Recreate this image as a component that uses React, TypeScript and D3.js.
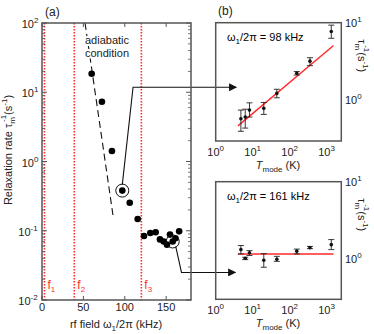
import * as d3 from "d3";

// panel (a): relaxation rate vs rf field
const rfField = [60, 72.4, 84.5, 97, 106, 115.6, 123.2, 130.8, 137.3, 142.5, 147, 151, 154.6, 157.9, 161.2, 165.7];
const relaxRate = [18.5, 7.3, 1.42, 0.38, 0.254, 0.148, 0.084, 0.093, 0.095, 0.075, 0.07, 0.063, 0.088, 0.07, 0.078, 0.098];
const circledIdx = [3, 13];
const fLines = [3, 39, 120];
const fNames = ["1", "2", "3"];
const adiabaticKHz = [52, 86];
const adiabaticRate = [100, 0.16];
const xTicksA = [0, 50, 100, 150];
const yTicksA = [-2, -1, 0, 1, 2];

// panel (b): rate vs mode temperature
const tMode = [4.8, 6.3, 8.2, 20, 45, 156, 355, 1340];
const rate98 = [0.58, 0.61, 0.75, 0.79, 1.23, 2.23, 3.2, 7.7];
const lo98 = [0.4, 0.44, 0.61, 0.66, 1.08, 2.12, 2.8, 6.3];
const hi98 = [0.75, 0.77, 0.93, 0.94, 1.39, 2.35, 3.54, 9.3];
const rate161 = [1.32, 1.02, 1.2, 0.96, 0.99, 1.26, 1.4, 1.53];
const lo161 = [1.16, 0.98, 1.11, 0.78, 0.93, 1.16, 1.36, 1.32];
const hi161 = [1.49, 1.05, 1.28, 1.17, 1.08, 1.34, 1.45, 1.78];
const fitT = [4, 1540];
const fit98 = [0.47, 5.1];
const fit161 = [1.16, 1.16];
const xTicksB = [0, 1, 2, 3];

const font = "'Liberation Sans', Arial, sans-serif";
const red = "#ff2a2a";
const frame = "#555";

const xA = d3.scaleLinear().domain([0, 180]).range([42, 191]);
const yA = d3.scaleLog().domain([0.01, 100]).range([300, 23]);
const xB = d3.scaleLog().domain([1, 2500]).range([215.7, 341.3]);
const yTop = d3.scaleLog().domain([0.3, 10]).range([141, 22.7]);
const yBot = d3.scaleLog().domain([0.3, 10]).range([299.3, 181.7]);

function Sup({ base, exp, ...rest }: any) {
  return (
    <text {...rest}>
      {base}
      <tspan dy={-5} fontSize={8}>{exp}</tspan>
    </text>
  );
}

// tau_m^-1 (s^-1) label
function TauLabel({ prefix }: any) {
  return (
    <>
      {prefix}τ<tspan dy={3} fontSize={8}>m</tspan>
      <tspan dy={-9} dx={-5} fontSize={8}>-1</tspan>
      <tspan dy={6}>(s</tspan>
      <tspan dy={-5} fontSize={8}>-1</tspan>
      <tspan dy={5}>)</tspan>
    </>
  );
}

function PanelB({ y, rate, lo, hi, fit, label }: any) {
  const [y0, y1] = y.range();
  const line = d3.line<number>().x((_, i) => xB(fitT[i])).y((d) => y(d));
  return (
    <g>
      <rect x={215.7} y={y1} width={341.3 - 215.7} height={y0 - y1} fill="none" stroke={frame} strokeWidth={1.5} />
      <text x={227} y={y1 + 18} fontSize={11} fontFamily={font}>
        ω<tspan dy={3} fontSize={8}>1</tspan>
        <tspan dy={-3}>/2π = {label} kHz</tspan>
      </text>
      <path d={line(fit) || ""} stroke={red} strokeWidth={1.4} fill="none" />
      {tMode.map((t, i) => (
        <g key={i} stroke="#222" strokeWidth={0.9}>
          <line x1={xB(t)} x2={xB(t)} y1={y(lo[i])} y2={y(hi[i])} />
          <line x1={xB(t) - 3} x2={xB(t) + 3} y1={y(lo[i])} y2={y(lo[i])} />
          <line x1={xB(t) - 3} x2={xB(t) + 3} y1={y(hi[i])} y2={y(hi[i])} />
          <circle cx={xB(t)} cy={y(rate[i])} r={1.8} fill="#111" stroke="none" />
        </g>
      ))}
      {xTicksB.map((e) => (
        <Sup key={e} base="10" exp={e} x={xB(10 ** e)} y={y0 + 15} fontSize={11} fontFamily={font} textAnchor="middle" fill="#222" />
      ))}
      {[0, 1].map((e) => (
        <Sup key={e} base="10" exp={e} x={345} y={y(10 ** e) + 4} fontSize={11} fontFamily={font} fill="#222" />
      ))}
      <text x={278} y={y0 + 28} fontSize={11} fontFamily={font} textAnchor="middle" fill="#222">
        <tspan fontStyle="italic">T</tspan>
        <tspan dy={3} fontSize={8}>mode</tspan>
        <tspan dy={-3}> (K)</tspan>
      </text>
      <text transform={`translate(358,${y1 + 33}) rotate(90)`} fontSize={11} fontFamily={font} textAnchor="middle" fill="#222">
        <TauLabel prefix="" />
      </text>
    </g>
  );
}

export default function App() {
  const minorTicks: number[] = [];
  for (let e = -2; e < 2; e++) for (let m = 2; m <= 9; m++) minorTicks.push(m * 10 ** e);

  const c1 = circledIdx[0];
  const c2 = circledIdx[1];
  const arrow1 = [
    [xA(rfField[c1]), yA(relaxRate[c1]) - 6],
    [xA(110), yA(11.8)],
    [xB(3.6), yA(11.8)],
  ];
  const arrow2 = [
    [xA(rfField[c2]) + 3, yA(relaxRate[c2]) + 5],
    [xA(168.5), yA(0.025)],
    [xB(3.4), yA(0.025)],
  ];
  const poly = d3.line();

  return (
    <svg width={374} height={334} style={{ position: "absolute", left: 0, top: 0, background: "#fff" }}>
      <defs>
        <marker id="arr" viewBox="0 0 10 10" refX={9} refY={5} markerWidth={8} markerHeight={8} orient="auto" markerUnits="userSpaceOnUse">
          <path d="M0,0 L10,5 L0,10 z" fill="#111" />
        </marker>
      </defs>

      {/* panel (a) */}
      <text x={45} y={16} fontSize={12} fontFamily={font} fill="#222">(a)</text>
      <text x={218} y={15} fontSize={12} fontFamily={font} fill="#222">(b)</text>

      {fLines.map((f, i) => (
        <g key={f}>
          <line x1={xA(f)} x2={xA(f)} y1={23} y2={300} stroke={red} strokeWidth={1.6} strokeDasharray="1.6,1.4" />
          <text x={xA(f) + 3} y={289} fontSize={12} fontFamily={font} fill={red}>
            f<tspan dy={3} fontSize={8}>{fNames[i]}</tspan>
          </text>
        </g>
      ))}

      <line x1={xA(adiabaticKHz[0])} y1={yA(adiabaticRate[0])} x2={xA(adiabaticKHz[1])} y2={yA(adiabaticRate[1])}
        stroke="#111" strokeWidth={1.1} strokeDasharray="7,4" />
      <g fontSize={11} fontFamily={font} fill="#222" stroke="#fff" strokeWidth={4} paintOrder="stroke">
        <text x={85} y={44}>adiabatic</text>
        <text x={85} y={57}>condition</text>
      </g>

      <path d={poly(arrow1 as any) || ""} fill="none" stroke="#111" strokeWidth={1.1} markerEnd="url(#arr)" />
      <path d={poly(arrow2 as any) || ""} fill="none" stroke="#111" strokeWidth={1.1} markerEnd="url(#arr)" />

      {rfField.map((f, i) => (
        <circle key={i} cx={xA(f)} cy={yA(relaxRate[i])} r={3.3} fill="#000" />
      ))}
      {circledIdx.map((i) => (
        <circle key={i} cx={xA(rfField[i])} cy={yA(relaxRate[i])} r={6.5} fill="none" stroke="#111" strokeWidth={1} />
      ))}

      <rect x={42} y={23} width={191 - 42} height={277} fill="none" stroke={frame} strokeWidth={1.5} />
      {minorTicks.map((v) => (
        <g key={v} stroke={frame} strokeWidth={0.8}>
          <line x1={42} x2={45} y1={yA(v)} y2={yA(v)} />
          <line x1={191} x2={188} y1={yA(v)} y2={yA(v)} />
        </g>
      ))}
      {yTicksA.map((e) => (
        <g key={e}>
          <line x1={42} x2={47} y1={yA(10 ** e)} y2={yA(10 ** e)} stroke={frame} strokeWidth={1} />
          <line x1={191} x2={186} y1={yA(10 ** e)} y2={yA(10 ** e)} stroke={frame} strokeWidth={1} />
          <Sup base="10" exp={e} x={e < 0 ? 28 : 30} y={yA(10 ** e) + 5} fontSize={11} fontFamily={font} textAnchor="middle" fill="#222" />
        </g>
      ))}
      {xTicksA.map((t) => (
        <g key={t}>
          <line x1={xA(t)} x2={xA(t)} y1={300} y2={296} stroke={frame} strokeWidth={1} />
          <line x1={xA(t)} x2={xA(t)} y1={23} y2={27} stroke={frame} strokeWidth={1} />
          <text x={xA(t)} y={311} fontSize={11} fontFamily={font} textAnchor="middle" fill="#222">{t}</text>
        </g>
      ))}
      <text x={116} y={328} fontSize={11} fontFamily={font} textAnchor="middle" fill="#222">
        rf field ω<tspan dy={3} fontSize={8}>1</tspan>
        <tspan dy={-3}>/2π (kHz)</tspan>
      </text>
      <text transform="translate(12,150) rotate(-90)" fontSize={11} fontFamily={font} textAnchor="middle" fill="#222">
        <TauLabel prefix="Relaxation rate  " />
      </text>

      <PanelB y={yTop} rate={rate98} lo={lo98} hi={hi98} fit={fit98} label="98" />
      <PanelB y={yBot} rate={rate161} lo={lo161} hi={hi161} fit={fit161} label="161" />
    </svg>
  );
}
